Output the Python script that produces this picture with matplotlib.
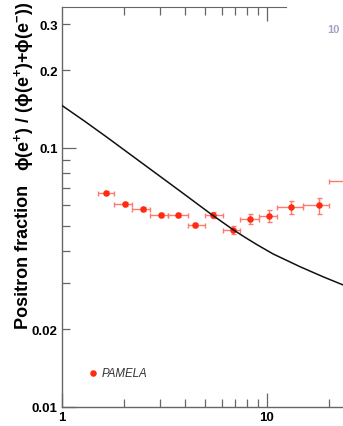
import matplotlib
matplotlib.use('Agg')
import matplotlib.pyplot as plt
from matplotlib.ticker import FixedLocator, NullFormatter, FixedFormatter
import numpy as np

# PAMELA positron fraction points
energy = [1.64, 2.02, 2.49, 3.04, 3.67, 4.45, 5.45, 6.8, 8.3, 10.2, 13.1, 17.9, 24.5]
e_lo = [1.5, 1.8, 2.2, 2.7, 3.3, 4.1, 5.0, 6.1, 7.4, 9.1, 11.2, 15.0, 20.0]
e_hi = [1.8, 2.2, 2.7, 3.3, 4.1, 5.0, 6.1, 7.4, 9.1, 11.2, 15.0, 20.0, 28.0]
fraction = [0.0673, 0.0607, 0.0583, 0.0551, 0.0550, 0.0505, 0.0552, 0.0483, 0.0532, 0.0547, 0.0590, 0.0600, 0.0745]
frac_err = [0.0010, 0.0010, 0.0010, 0.0010, 0.0010, 0.0010, 0.0013, 0.0019, 0.0023, 0.0029, 0.0032, 0.0042, 0.0050]

# secondary production model curve
model_e = [1.0, 1.295, 1.676, 2.687, 3.764, 5.41, 6.83, 7.81, 8.91, 10.7, 14.5, 18.82, 23.5]
model_frac = [0.1459, 0.1266, 0.1093, 0.0830, 0.0682, 0.0551, 0.0484, 0.0452, 0.0424, 0.0390, 0.0348, 0.0318, 0.0296]

plt.rcParams['font.family'] = ['Liberation Sans', 'DejaVu Sans']
plt.rcParams['mathtext.fontset'] = 'custom'
plt.rcParams['mathtext.rm'] = 'Liberation Sans:bold'
plt.rcParams['mathtext.it'] = 'Liberation Sans'
plt.rcParams['mathtext.default'] = 'regular'

fig = plt.figure(figsize=(3.43, 4.27), dpi=100)
W, H = 343.0, 427.0
x0, y0 = 62 / W, (H - 408) / H
ax = fig.add_axes([x0, y0, 1.0 - x0, 400 / H])

xerr = [np.array(energy) - np.array(e_lo), np.array(e_hi) - np.array(energy)]
ax.errorbar(energy, fraction, xerr=xerr, yerr=frac_err, fmt='none',
            ecolor='#ff7a6e', elinewidth=1.0, capsize=1.8, capthick=1.0, clip_on=False, zorder=2)
ax.plot(energy, fraction, 'o', color='#ff2a10', ms=4.7, mec='none', zorder=3)
ax.plot(model_e, model_frac, '-', color='#111111', lw=1.1, zorder=4)

ax.set_xscale('log')
ax.set_yscale('log')
ax.set_xlim(1, 10 ** ((343 - 62) / 205))
ax.set_ylim(0.01, 0.01 * 10 ** (400 / 259))

ax.xaxis.set_major_locator(FixedLocator([1, 10]))
ax.xaxis.set_major_formatter(FixedFormatter(['1', '10']))
ax.xaxis.set_minor_locator(FixedLocator([2, 3, 4, 5, 6, 7, 8, 9, 20]))
ax.xaxis.set_minor_formatter(NullFormatter())

ax.yaxis.set_major_locator(FixedLocator([0.01, 0.1]))
ax.yaxis.set_major_formatter(FixedFormatter(['0.01', '0.1']))
ax.yaxis.set_minor_locator(FixedLocator([0.02, 0.03, 0.04, 0.05, 0.06, 0.07, 0.08, 0.09, 0.2, 0.3]))
ax.yaxis.set_minor_formatter(FixedFormatter(['0.02', '', '', '', '', '', '', '', '0.2', '0.3']))

axis_col = '#666666'
for s in ['left', 'bottom']:
    ax.spines[s].set_color(axis_col)
    ax.spines[s].set_linewidth(1.0)
ax.spines['right'].set_visible(False)
ax.spines['top'].set_color(axis_col)
ax.spines['top'].set_bounds(1, 12.4)

ax.tick_params(which='major', direction='in', length=10, width=0.9, color=axis_col,
               labelsize=9.5, pad=3)
ax.tick_params(which='minor', direction='in', length=6, width=0.9, color=axis_col,
               labelsize=9.5, pad=3)
ax.tick_params(axis='y', which='both', right=False)
ax.tick_params(axis='x', which='both', top=False)
for lab in ax.get_xticklabels(which='both') + ax.get_yticklabels(which='both'):
    lab.set_fontweight('bold')

# top ticks only up to 10, where the frame ends
sec = ax.secondary_xaxis('top')
sec.spines['top'].set_visible(False)
sec.xaxis.set_major_locator(FixedLocator([10]))
sec.xaxis.set_minor_locator(FixedLocator([2, 3, 4, 5, 6, 7, 8, 9]))
sec.xaxis.set_major_formatter(NullFormatter())
sec.xaxis.set_minor_formatter(NullFormatter())
sec.tick_params(which='major', direction='in', length=10, width=0.9, color=axis_col)
sec.tick_params(which='minor', direction='in', length=6, width=0.9, color=axis_col)

# legend
ax.plot([1.41], [0.0135], 'o', color='#ff2a10', ms=4.7, mec='none')
ax.text(1.56, 0.0135, 'PAMELA', fontsize=8.3, style='italic', color='#333333', va='center')

# y label in two pieces
fig.text(24 / W, 1 - 257 / H, 'Positron fraction', rotation=90, fontsize=13,
         fontweight='bold', ha='center', va='center')
fig.text(24 / W, 1 - 86 / H,
         r'$\phi$(e$^{+}$) / ($\phi$(e$^{+}$)+$\phi$(e$^{-}$))',
         rotation=90, fontsize=13, fontweight='bold', ha='center', va='center')

fig.text(333 / W, 1 - 30 / H, '10', fontsize=8, color='#8877aa', alpha=0.7,
         ha='center', va='center', fontweight='bold')

fig.savefig('out.png', dpi=100)
